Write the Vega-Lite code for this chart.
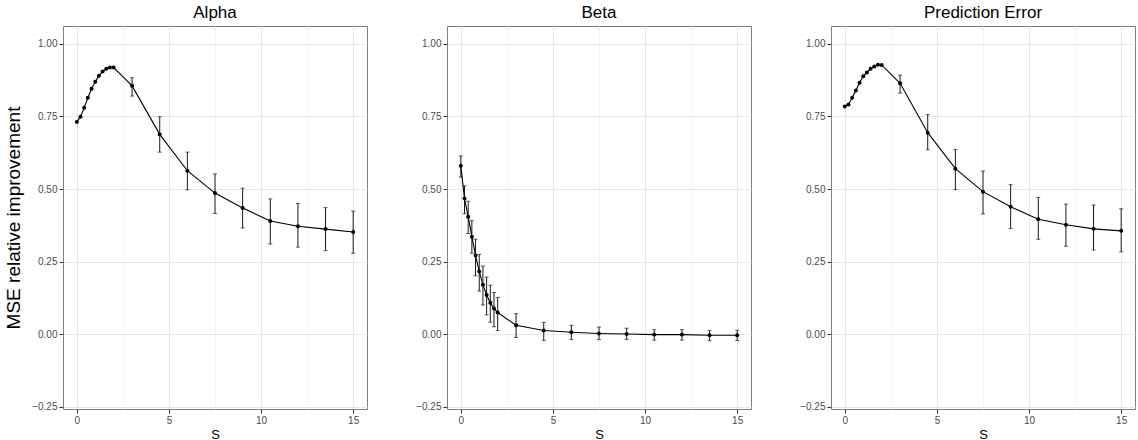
{
  "$schema": "https://vega.github.io/schema/vega-lite/v6.json",
  "padding": {"top": 3, "left": 4, "right": 0, "bottom": 0},
  "background": "white",
  "config": {
    "font": "Liberation Sans",
    "view": {"stroke": "#7f7f7f", "strokeWidth": 1},
    "axis": {
      "domain": false,
      "tickColor": "#333333",
      "tickSize": 4,
      "labelFontSize": 10,
      "labelColor": "#4d4d4d",
      "labelPadding": 2,
      "titleFontWeight": "normal",
      "titleColor": "black"
    },
    "title": {"fontSize": 17, "fontWeight": "normal", "color": "black", "offset": 4}
  },
  "datasets": {
    "mse": [
      {"panel": "Alpha", "s": 0, "y": 0.731, "lo": null, "hi": null},
      {"panel": "Alpha", "s": 0.2, "y": 0.749, "lo": null, "hi": null},
      {"panel": "Alpha", "s": 0.4, "y": 0.780, "lo": null, "hi": null},
      {"panel": "Alpha", "s": 0.6, "y": 0.814, "lo": null, "hi": null},
      {"panel": "Alpha", "s": 0.8, "y": 0.845, "lo": null, "hi": null},
      {"panel": "Alpha", "s": 1.0, "y": 0.869, "lo": null, "hi": null},
      {"panel": "Alpha", "s": 1.2, "y": 0.890, "lo": null, "hi": null},
      {"panel": "Alpha", "s": 1.4, "y": 0.904, "lo": null, "hi": null},
      {"panel": "Alpha", "s": 1.6, "y": 0.914, "lo": null, "hi": null},
      {"panel": "Alpha", "s": 1.8, "y": 0.918, "lo": null, "hi": null},
      {"panel": "Alpha", "s": 2.0, "y": 0.918, "lo": null, "hi": null},
      {"panel": "Alpha", "s": 3, "y": 0.855, "lo": 0.820, "hi": 0.883},
      {"panel": "Alpha", "s": 4.5, "y": 0.688, "lo": 0.627, "hi": 0.749},
      {"panel": "Alpha", "s": 6, "y": 0.563, "lo": 0.497, "hi": 0.627},
      {"panel": "Alpha", "s": 7.5, "y": 0.486, "lo": 0.416, "hi": 0.552},
      {"panel": "Alpha", "s": 9, "y": 0.435, "lo": 0.366, "hi": 0.503},
      {"panel": "Alpha", "s": 10.5, "y": 0.390, "lo": 0.311, "hi": 0.466},
      {"panel": "Alpha", "s": 12, "y": 0.372, "lo": 0.300, "hi": 0.450},
      {"panel": "Alpha", "s": 13.5, "y": 0.362, "lo": 0.288, "hi": 0.436},
      {"panel": "Alpha", "s": 15, "y": 0.352, "lo": 0.279, "hi": 0.424},
      {"panel": "Beta", "s": 0, "y": 0.580, "lo": 0.541, "hi": 0.614},
      {"panel": "Beta", "s": 0.2, "y": 0.467, "lo": 0.415, "hi": 0.511},
      {"panel": "Beta", "s": 0.4, "y": 0.405, "lo": 0.347, "hi": 0.458},
      {"panel": "Beta", "s": 0.6, "y": 0.336, "lo": 0.279, "hi": 0.391},
      {"panel": "Beta", "s": 0.8, "y": 0.271, "lo": 0.201, "hi": 0.327},
      {"panel": "Beta", "s": 1.0, "y": 0.216, "lo": 0.149, "hi": 0.275},
      {"panel": "Beta", "s": 1.2, "y": 0.171, "lo": 0.101, "hi": 0.235},
      {"panel": "Beta", "s": 1.4, "y": 0.135, "lo": 0.067, "hi": 0.197},
      {"panel": "Beta", "s": 1.6, "y": 0.109, "lo": 0.042, "hi": 0.169},
      {"panel": "Beta", "s": 1.8, "y": 0.089, "lo": 0.026, "hi": 0.144},
      {"panel": "Beta", "s": 2.0, "y": 0.075, "lo": 0.013, "hi": 0.127},
      {"panel": "Beta", "s": 3, "y": 0.031, "lo": -0.011, "hi": 0.071},
      {"panel": "Beta", "s": 4.5, "y": 0.013, "lo": -0.021, "hi": 0.041},
      {"panel": "Beta", "s": 6, "y": 0.007, "lo": -0.018, "hi": 0.031},
      {"panel": "Beta", "s": 7.5, "y": 0.003, "lo": -0.018, "hi": 0.025},
      {"panel": "Beta", "s": 9, "y": 0.001, "lo": -0.018, "hi": 0.021},
      {"panel": "Beta", "s": 10.5, "y": -0.001, "lo": -0.020, "hi": 0.016},
      {"panel": "Beta", "s": 12, "y": -0.001, "lo": -0.020, "hi": 0.016},
      {"panel": "Beta", "s": 13.5, "y": -0.003, "lo": -0.022, "hi": 0.013},
      {"panel": "Beta", "s": 15, "y": -0.003, "lo": -0.021, "hi": 0.014},
      {"panel": "Prediction Error", "s": 0, "y": 0.784, "lo": null, "hi": null},
      {"panel": "Prediction Error", "s": 0.2, "y": 0.791, "lo": null, "hi": null},
      {"panel": "Prediction Error", "s": 0.4, "y": 0.814, "lo": null, "hi": null},
      {"panel": "Prediction Error", "s": 0.6, "y": 0.839, "lo": null, "hi": null},
      {"panel": "Prediction Error", "s": 0.8, "y": 0.866, "lo": null, "hi": null},
      {"panel": "Prediction Error", "s": 1.0, "y": 0.888, "lo": null, "hi": null},
      {"panel": "Prediction Error", "s": 1.2, "y": 0.901, "lo": null, "hi": null},
      {"panel": "Prediction Error", "s": 1.4, "y": 0.914, "lo": null, "hi": null},
      {"panel": "Prediction Error", "s": 1.6, "y": 0.922, "lo": null, "hi": null},
      {"panel": "Prediction Error", "s": 1.8, "y": 0.928, "lo": null, "hi": null},
      {"panel": "Prediction Error", "s": 2.0, "y": 0.927, "lo": null, "hi": null},
      {"panel": "Prediction Error", "s": 3, "y": 0.864, "lo": 0.830, "hi": 0.892},
      {"panel": "Prediction Error", "s": 4.5, "y": 0.694, "lo": 0.635, "hi": 0.756},
      {"panel": "Prediction Error", "s": 6, "y": 0.570, "lo": 0.498, "hi": 0.636},
      {"panel": "Prediction Error", "s": 7.5, "y": 0.491, "lo": 0.414, "hi": 0.562},
      {"panel": "Prediction Error", "s": 9, "y": 0.439, "lo": 0.364, "hi": 0.515},
      {"panel": "Prediction Error", "s": 10.5, "y": 0.396, "lo": 0.327, "hi": 0.471},
      {"panel": "Prediction Error", "s": 12, "y": 0.377, "lo": 0.303, "hi": 0.448},
      {"panel": "Prediction Error", "s": 13.5, "y": 0.363, "lo": 0.290, "hi": 0.445},
      {"panel": "Prediction Error", "s": 15, "y": 0.356, "lo": 0.284, "hi": 0.432}
    ]
  },
  "data": {"name": "mse"},
  "spacing": 80,
  "bounds": "flush",
  "hconcat": [
    {
      "title": "Alpha",
      "width": 304,
      "height": 383,
      "transform": [{"filter": "datum.panel === 'Alpha'"}],
      "encoding": {
        "x": {"field": "s", "type": "quantitative", "scale": {"domain": [-0.75, 15.75], "nice": false, "zero": false},
          "axis": {"title": "S", "titleFontSize": 13, "titlePadding": 3, "values": [0, 2.5, 5, 7.5, 10, 12.5, 15],
            "labelExpr": "datum.value % 5 === 0 ? datum.label : ''",
            "gridColor": {"condition": {"test": "datum.value % 5 === 0", "value": "#e6e6e6"}, "value": "#f4f4f4"},
            "tickOpacity": {"condition": {"test": "datum.value % 5 === 0", "value": 1}, "value": 0}}}
      },
      "layer": [
        {"mark": {"type": "rule", "color": "#1a1a1a", "strokeWidth": 1},
          "encoding": {"y": {"field": "lo", "type": "quantitative", "scale": {"domain": [-0.257, 1.061], "nice": false, "zero": false},
            "axis": {"title": "MSE relative improvement", "titleFontSize": 19, "titlePadding": 8, "format": ".2f",
            "values": [-0.25, -0.125, 0, 0.125, 0.25, 0.375, 0.5, 0.625, 0.75, 0.875, 1],
            "labelExpr": "abs(datum.value*4 - round(datum.value*4)) < 0.001 ? datum.label : ''",
            "gridColor": {"condition": {"test": "abs(datum.value*4 - round(datum.value*4)) < 0.001", "value": "#e6e6e6"}, "value": "#f4f4f4"},
            "tickOpacity": {"condition": {"test": "abs(datum.value*4 - round(datum.value*4)) < 0.001", "value": 1}, "value": 0}}},
            "y2": {"field": "hi"}}},
        {"mark": {"type": "tick", "orient": "horizontal", "color": "#1a1a1a", "size": 4, "thickness": 1},
          "encoding": {"y": {"field": "lo", "type": "quantitative", "scale": {"domain": [-0.257, 1.061], "nice": false, "zero": false}}}},
        {"mark": {"type": "tick", "orient": "horizontal", "color": "#1a1a1a", "size": 4, "thickness": 1},
          "encoding": {"y": {"field": "hi", "type": "quantitative", "scale": {"domain": [-0.257, 1.061], "nice": false, "zero": false}}}},
        {"mark": {"type": "line", "color": "black", "strokeWidth": 1.1},
          "encoding": {"y": {"field": "y", "type": "quantitative", "scale": {"domain": [-0.257, 1.061], "nice": false, "zero": false}}}},
        {"mark": {"type": "point", "filled": true, "color": "black", "size": 16, "opacity": 1},
          "encoding": {"y": {"field": "y", "type": "quantitative", "scale": {"domain": [-0.257, 1.061], "nice": false, "zero": false}}}}
      ]
    },
    {
      "title": "Beta",
      "width": 304,
      "height": 383,
      "transform": [{"filter": "datum.panel === 'Beta'"}],
      "encoding": {
        "x": {"field": "s", "type": "quantitative", "scale": {"domain": [-0.75, 15.75], "nice": false, "zero": false},
          "axis": {"title": "S", "titleFontSize": 13, "titlePadding": 3, "values": [0, 2.5, 5, 7.5, 10, 12.5, 15],
            "labelExpr": "datum.value % 5 === 0 ? datum.label : ''",
            "gridColor": {"condition": {"test": "datum.value % 5 === 0", "value": "#e6e6e6"}, "value": "#f4f4f4"},
            "tickOpacity": {"condition": {"test": "datum.value % 5 === 0", "value": 1}, "value": 0}}}
      },
      "layer": [
        {"mark": {"type": "rule", "color": "#1a1a1a", "strokeWidth": 1},
          "encoding": {"y": {"field": "lo", "type": "quantitative", "scale": {"domain": [-0.257, 1.061], "nice": false, "zero": false},
            "axis": {"title": null, "format": ".2f",
            "values": [-0.25, -0.125, 0, 0.125, 0.25, 0.375, 0.5, 0.625, 0.75, 0.875, 1],
            "labelExpr": "abs(datum.value*4 - round(datum.value*4)) < 0.001 ? datum.label : ''",
            "gridColor": {"condition": {"test": "abs(datum.value*4 - round(datum.value*4)) < 0.001", "value": "#e6e6e6"}, "value": "#f4f4f4"},
            "tickOpacity": {"condition": {"test": "abs(datum.value*4 - round(datum.value*4)) < 0.001", "value": 1}, "value": 0}}},
            "y2": {"field": "hi"}}},
        {"mark": {"type": "tick", "orient": "horizontal", "color": "#1a1a1a", "size": 4, "thickness": 1},
          "encoding": {"y": {"field": "lo", "type": "quantitative", "scale": {"domain": [-0.257, 1.061], "nice": false, "zero": false}}}},
        {"mark": {"type": "tick", "orient": "horizontal", "color": "#1a1a1a", "size": 4, "thickness": 1},
          "encoding": {"y": {"field": "hi", "type": "quantitative", "scale": {"domain": [-0.257, 1.061], "nice": false, "zero": false}}}},
        {"mark": {"type": "line", "color": "black", "strokeWidth": 1.1},
          "encoding": {"y": {"field": "y", "type": "quantitative", "scale": {"domain": [-0.257, 1.061], "nice": false, "zero": false}}}},
        {"mark": {"type": "point", "filled": true, "color": "black", "size": 16, "opacity": 1},
          "encoding": {"y": {"field": "y", "type": "quantitative", "scale": {"domain": [-0.257, 1.061], "nice": false, "zero": false}}}}
      ]
    },
    {
      "title": "Prediction Error",
      "width": 304,
      "height": 383,
      "transform": [{"filter": "datum.panel === 'Prediction Error'"}],
      "encoding": {
        "x": {"field": "s", "type": "quantitative", "scale": {"domain": [-0.75, 15.75], "nice": false, "zero": false},
          "axis": {"title": "S", "titleFontSize": 13, "titlePadding": 3, "values": [0, 2.5, 5, 7.5, 10, 12.5, 15],
            "labelExpr": "datum.value % 5 === 0 ? datum.label : ''",
            "gridColor": {"condition": {"test": "datum.value % 5 === 0", "value": "#e6e6e6"}, "value": "#f4f4f4"},
            "tickOpacity": {"condition": {"test": "datum.value % 5 === 0", "value": 1}, "value": 0}}}
      },
      "layer": [
        {"mark": {"type": "rule", "color": "#1a1a1a", "strokeWidth": 1},
          "encoding": {"y": {"field": "lo", "type": "quantitative", "scale": {"domain": [-0.257, 1.061], "nice": false, "zero": false},
            "axis": {"title": null, "format": ".2f",
            "values": [-0.25, -0.125, 0, 0.125, 0.25, 0.375, 0.5, 0.625, 0.75, 0.875, 1],
            "labelExpr": "abs(datum.value*4 - round(datum.value*4)) < 0.001 ? datum.label : ''",
            "gridColor": {"condition": {"test": "abs(datum.value*4 - round(datum.value*4)) < 0.001", "value": "#e6e6e6"}, "value": "#f4f4f4"},
            "tickOpacity": {"condition": {"test": "abs(datum.value*4 - round(datum.value*4)) < 0.001", "value": 1}, "value": 0}}},
            "y2": {"field": "hi"}}},
        {"mark": {"type": "tick", "orient": "horizontal", "color": "#1a1a1a", "size": 4, "thickness": 1},
          "encoding": {"y": {"field": "lo", "type": "quantitative", "scale": {"domain": [-0.257, 1.061], "nice": false, "zero": false}}}},
        {"mark": {"type": "tick", "orient": "horizontal", "color": "#1a1a1a", "size": 4, "thickness": 1},
          "encoding": {"y": {"field": "hi", "type": "quantitative", "scale": {"domain": [-0.257, 1.061], "nice": false, "zero": false}}}},
        {"mark": {"type": "line", "color": "black", "strokeWidth": 1.1},
          "encoding": {"y": {"field": "y", "type": "quantitative", "scale": {"domain": [-0.257, 1.061], "nice": false, "zero": false}}}},
        {"mark": {"type": "point", "filled": true, "color": "black", "size": 16, "opacity": 1},
          "encoding": {"y": {"field": "y", "type": "quantitative", "scale": {"domain": [-0.257, 1.061], "nice": false, "zero": false}}}}
      ]
    }
  ]
}
